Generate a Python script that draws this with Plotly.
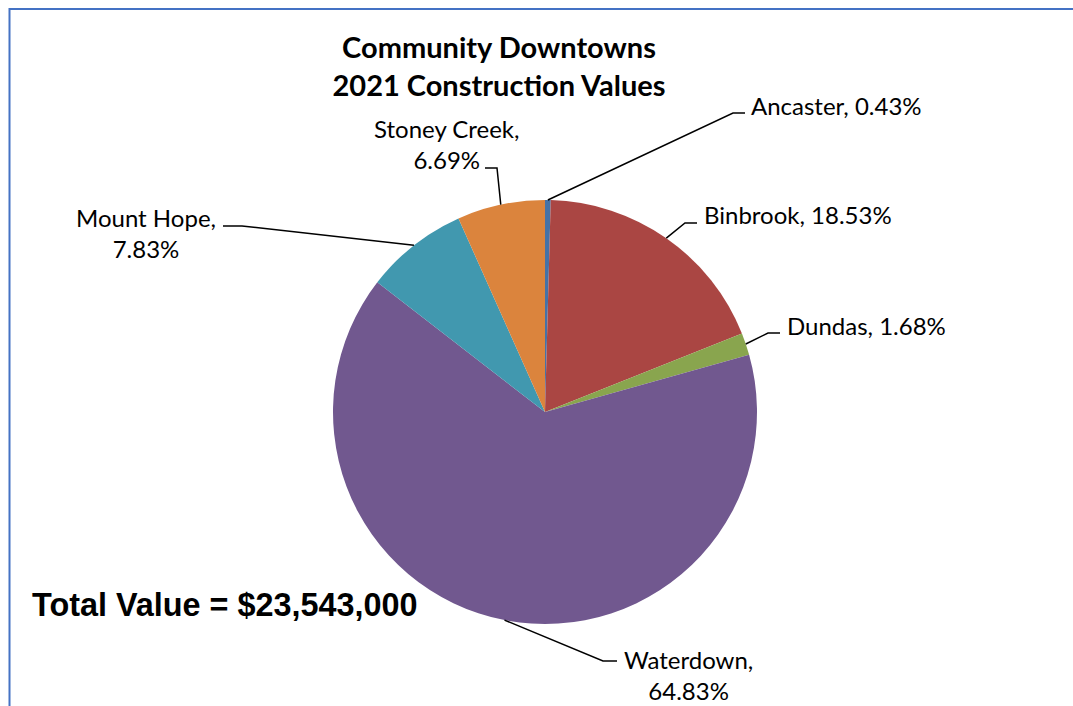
import math
import plotly.graph_objects as go

# ---------------- data ----------------
towns = ["Ancaster", "Binbrook", "Dundas", "Waterdown", "Mount Hope", "Stoney Creek"]
shares = [0.43, 18.53, 1.68, 64.83, 7.83, 6.69]          # percent of total value
total_value = 23543000
title_lines = ["Community Downtowns", "2021 Construction Values"]

# ---------------- style / layout ----------------
colors = ["#4572A7", "#AA4643", "#89A54E", "#71588F", "#4198AF", "#DB843D"]
W, H = 1073, 706                   # window / figure size
CX, CY, R = 545, 412, 212          # pie centre / radius in pixels
LABEL_FONT = "Lato, Carlito, Calibri, sans-serif"

# label placement: text anchor, leader elbow and leader end (pixels)
label_layout = {
    "Ancaster":     dict(x=749, y=106, xa="left",   br=False, elbow=(733, 113), end=(745, 113)),
    "Binbrook":     dict(x=702, y=214, xa="left",   br=False, elbow=(685, 223), end=(697, 223)),
    "Dundas":       dict(x=785, y=325, xa="left",   br=False, elbow=(768, 333), end=(780, 333)),
    "Waterdown":    dict(x=688, y=675, xa="center", br=True,  elbow=(603, 661), end=(617, 661)),
    "Mount Hope":   dict(x=146, y=233, xa="center", br=True,  elbow=(242, 226), end=(223, 226)),
    "Stoney Creek": dict(x=447, y=144, xa="center", br=True,  elbow=(497, 168), end=(485, 168)),
}


def px(x):
    return x / W


def py(y):
    return 1 - y / H


fig = go.Figure()
fig.add_trace(go.Pie(
    labels=towns,
    values=shares,
    sort=False,
    direction="clockwise",
    rotation=0,
    marker=dict(colors=colors, line=dict(width=0)),
    textinfo="none",
    hovertemplate="%{label}: %{value:.2f}%<extra></extra>",
    showlegend=False,
    domain=dict(x=[px(CX - R), px(CX + R)], y=[py(CY + R), py(CY - R)]),
))

shapes = []
annotations = []
total = sum(shares)
cum = 0.0
for town, share in zip(towns, shares):
    mid = (cum + share / 2) / total * 2 * math.pi
    cum += share
    sx = CX + R * math.sin(mid)
    sy = CY - R * math.cos(mid)
    L = label_layout[town]
    ex, ey = L["elbow"]
    nx, ny = L["end"]
    shapes.append(dict(
        type="path", xref="paper", yref="paper",
        path=f"M {px(sx)},{py(sy)} L {px(ex)},{py(ey)} L {px(nx)},{py(ny)}",
        line=dict(color="#000000", width=1.5),
    ))
    sep = "<br>" if L["br"] else " "
    annotations.append(dict(
        text=f"{town},{sep}{share:.2f}%",
        x=px(L["x"]), y=py(L["y"]), xref="paper", yref="paper",
        xanchor=L["xa"], yanchor="middle", showarrow=False, align="center",
        font=dict(family=LABEL_FONT, size=24, color="#000000"),
    ))

annotations.append(dict(
    text=f"<b>Total Value = ${total_value:,}</b>",
    x=px(30), y=py(605), xref="paper", yref="paper",
    xanchor="left", yanchor="middle", showarrow=False,
    font=dict(family="Arial, Liberation Sans, sans-serif", size=32.4, color="#000000"),
))

# chart-area border (left and top edges)
shapes.append(dict(
    type="path", xref="paper", yref="paper",
    path=f"M {px(9.5)},{py(H + 4)} L {px(9.5)},{py(9)} L {px(W + 4)},{py(9)}",
    line=dict(color="#4472C4", width=2),
))

fig.update_layout(
    width=W, height=H,
    margin=dict(l=0, r=0, t=0, b=0),
    paper_bgcolor="#FFFFFF",
    plot_bgcolor="#FFFFFF",
    title=dict(
        text="<b>" + "<br>".join(title_lines) + "</b>",
        x=px(499), xanchor="center", y=py(58), yanchor="middle",
        font=dict(family=LABEL_FONT, size=29, color="#000000"),
    ),
    shapes=shapes,
    annotations=annotations,
)

fig.write_html(
    "out.html",
    config={"displayModeBar": False},
    post_script="document.body.style.margin='0px';document.body.style.overflow='hidden';",
)
